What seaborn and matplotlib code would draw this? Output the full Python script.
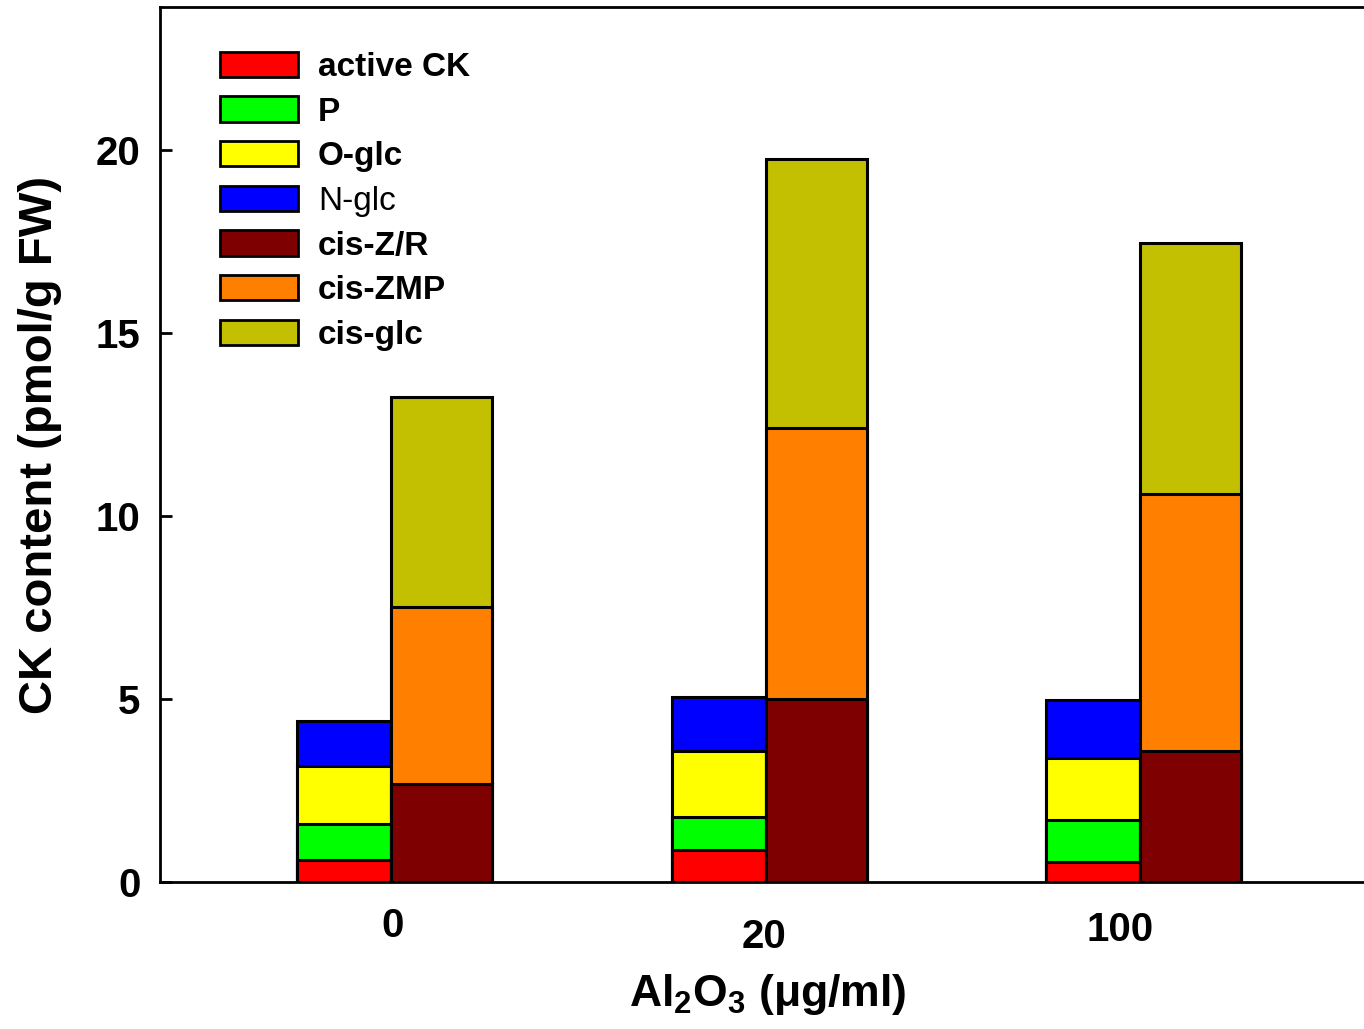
import matplotlib

matplotlib.use("Agg")
import matplotlib.pyplot as plt
import pandas as pd
import seaborn as sns
from matplotlib.patches import Patch

# %% Data (pmol/g FW)
concentrations = ["0", "20", "100"]

# left stack
active_ck = [0.60, 0.87, 0.55]
p_type = [0.99, 0.91, 1.14]
o_glc = [1.59, 1.80, 1.70]
n_glc = [1.23, 1.47, 1.58]

# right stack
cis_zr = [2.68, 5.00, 3.58]
cis_zmp = [4.83, 7.40, 7.02]
cis_glc = [5.74, 7.35, 6.86]

labels = ["active CK", "P", "O-glc", "N-glc", "cis-Z/R", "cis-ZMP", "cis-glc"]
COLOURS = {
    "active CK": "#FF0000",
    "P": "#00FF00",
    "O-glc": "#FFFF00",
    "N-glc": "#0000FF",
    "cis-Z/R": "#7F0000",
    "cis-ZMP": "#FF8000",
    "cis-glc": "#C2C000",
}

# %% Style
sns.set_style("ticks")
plt.rcParams["font.family"] = ["Liberation Sans", "DejaVu Sans"]
plt.rcParams["font.weight"] = "bold"
plt.rcParams["mathtext.default"] = "regular"
for key in ["text.color", "axes.labelcolor", "xtick.color", "ytick.color"]:
    plt.rcParams[key] = "black"

LEFT_W, RIGHT_W = 0.251, 0.27
groups = range(len(concentrations))

stacks = [
    (["active CK", "P", "O-glc", "N-glc"], [active_ck, p_type, o_glc, n_glc],
     [g - LEFT_W / 2 for g in groups], LEFT_W),
    (["cis-Z/R", "cis-ZMP", "cis-glc"], [cis_zr, cis_zmp, cis_glc],
     [g + RIGHT_W / 2 for g in groups], RIGHT_W),
]

fig = plt.figure(figsize=(13.64, 10.29), dpi=100)
ax = fig.add_axes([160 / 1364, 1 - 882 / 1029, 1206 / 1364, 875 / 1029])

# stacked bars: draw cumulative totals from the top layer down
for names, series, pos, width in stacks:
    cum = pd.DataFrame(series, index=names).cumsum()
    for name in reversed(names):
        df = pd.DataFrame({"pos": pos, "value": cum.loc[name].values})
        sns.barplot(
            data=df, x="pos", y="value", native_scale=True, orient="x",
            width=width, color=COLOURS[name], saturation=1, errorbar=None,
            edgecolor="black", linewidth=2.2, ax=ax,
        )

ax.set_xlim(-0.617, 2.603)
ax.set_ylim(0, 23.9)
ax.set_yticks([0, 5, 10, 15, 20])
ax.tick_params(axis="y", direction="in", length=8.5, width=2, labelsize=29, pad=14)
ax.tick_params(axis="x", length=0, labelsize=29)

# tick labels in the original sit slightly off-centre / at uneven heights
ax.set_xticks([0.005, 0.995, 1.947])
ax.set_xticklabels(concentrations)
for tick, pad in zip(ax.xaxis.get_major_ticks(), [18, 26, 21]):
    tick.set_pad(pad)
for lab in ax.get_xticklabels() + ax.get_yticklabels():
    lab.set_fontweight("bold")

for side in ["left", "top", "bottom"]:
    ax.spines[side].set_linewidth(2)
    ax.spines[side].set_color("black")
ax.spines["right"].set_visible(False)

ax.set_ylabel("CK content (pmol/g FW)", fontsize=34, fontweight="bold")
ax.yaxis.set_label_coords(-0.081, 0.5)
ax.set_xlabel(r"Al$_2$O$_3$ (μg/ml)", fontsize=32, fontweight="bold")
ax.xaxis.set_label_coords(0.504, -0.103)

handles = [
    Patch(facecolor=COLOURS[n], edgecolor="black", linewidth=2, label=n) for n in labels
]
leg = ax.legend(
    handles=handles, loc="upper left", bbox_to_anchor=(0.0498, 0.949),
    frameon=False, fontsize=24, handlelength=2.34, handleheight=0.8,
    handletextpad=0.6, labelspacing=0.40, borderpad=0, borderaxespad=0,
)
for t in leg.get_texts():
    t.set_fontweight("normal" if t.get_text() == "N-glc" else "bold")

plt.savefig("out.png", dpi=100)
plt.close()
